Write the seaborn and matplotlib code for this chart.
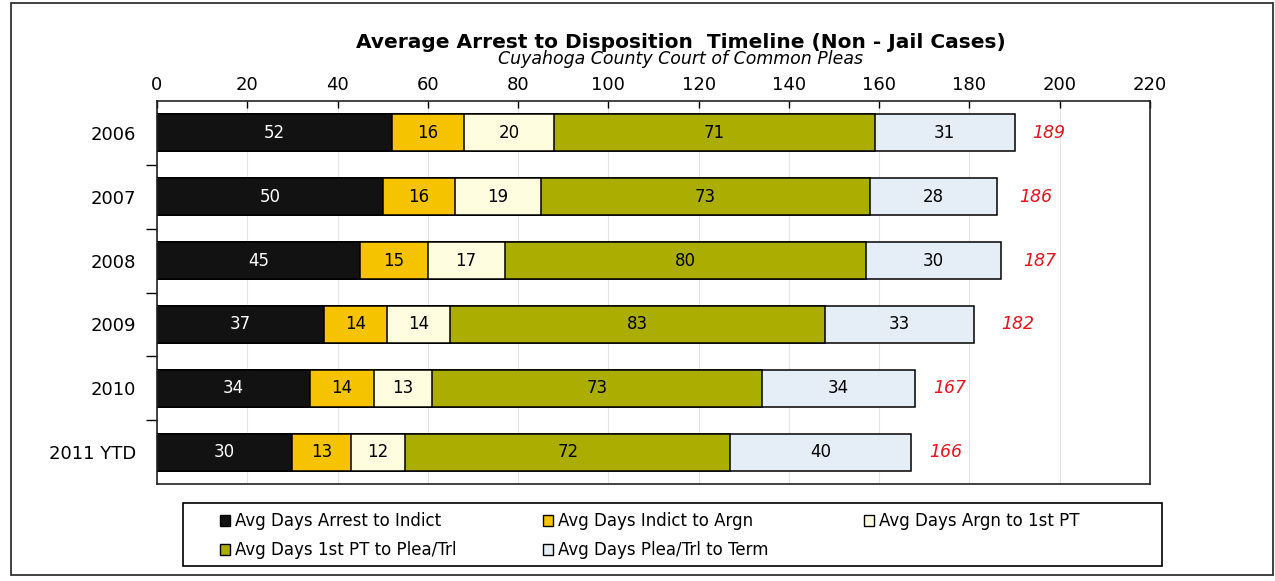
import matplotlib
matplotlib.use('Agg')
import matplotlib.pyplot as plt
import matplotlib.patches as mpatches
import numpy as np
import pandas as pd
import seaborn as sns

# ---------------------------------------------------------------------------
# Data
# ---------------------------------------------------------------------------
years = ['2006', '2007', '2008', '2009', '2010', '2011 YTD']
arrest_to_indict = [52, 50, 45, 37, 34, 30]
indict_to_argn = [16, 16, 15, 14, 14, 13]
argn_to_1st_pt = [20, 19, 17, 14, 13, 12]
pt_to_plea = [71, 73, 80, 83, 73, 72]
plea_to_term = [31, 28, 30, 33, 34, 40]
totals = [189, 186, 187, 182, 167, 166]

series_names = ['Avg Days Arrest to Indict', 'Avg Days Indict to Argn',
                'Avg Days Argn to 1st PT', 'Avg Days 1st PT to Plea/Trl',
                'Avg Days Plea/Trl to Term']
series_vals = [arrest_to_indict, indict_to_argn, argn_to_1st_pt, pt_to_plea, plea_to_term]
series_colors = ['#121212', '#F6C300', '#FFFDE0', '#ABAE00', '#E5EEF6']
text_colors = ['white', 'black', 'black', 'black', 'black']

sns.set_theme(style='white', rc={'text.color': 'black', 'xtick.color': 'black',
                                 'ytick.color': 'black', 'axes.labelcolor': 'black'})
plt.rcParams['font.family'] = ['DejaVu Sans']

W, H = 1275, 581
fig = plt.figure(figsize=(W / 100, H / 100), dpi=100)
ax = fig.add_axes([157 / W, 1 - 484 / H, (1150 - 157) / W, (484 - 101) / H])

df = pd.DataFrame({'year': years})
cum = np.zeros(len(years))
lefts = []
for vals in series_vals:
    lefts.append(cum.copy())
    cum = cum + np.array(vals)
    df[len(lefts) - 1] = cum.copy()

# draw cumulative bars from the outermost segment inward
for i in reversed(range(len(series_vals))):
    sns.barplot(data=df, x=i, y='year', orient='h', color=series_colors[i],
                saturation=1, width=0.58, edgecolor='black', linewidth=1.1, ax=ax)

# segment labels
for i, vals in enumerate(series_vals):
    for j, v in enumerate(vals):
        ax.text(lefts[i][j] + v / 2, j, str(v), ha='center', va='center',
                fontsize=12, color=text_colors[i])

# totals in red italic
for j, t in enumerate(totals):
    ax.text(t + 5, j, str(t), ha='left', va='center', fontsize=12.5,
            color='#E8141B', style='italic')

ax.set_xlim(0, 220)
ax.set_ylim(5.5, -0.5)
ax.set_xticks(range(0, 221, 20))
ax.xaxis.tick_top()
ax.tick_params(axis='x', which='major', direction='in', length=5, width=1,
               labelsize=13, pad=5, top=True, bottom=False)
ax.set_yticks(range(len(years)))
ax.set_yticklabels(years)
ax.tick_params(axis='y', which='major', length=0, labelsize=13, pad=15)
ax.set_yticks(np.arange(0.5, len(years) - 0.5, 1), minor=True)
ax.tick_params(axis='y', which='minor', direction='out', length=8, width=1, left=True)
ax.set_xlabel('')
ax.set_ylabel('')
ax.grid(axis='x', color='#E4E4E4', linewidth=0.8)
ax.set_axisbelow(True)
for s in ax.spines.values():
    s.set_visible(True)
    s.set_color('#222222')
    s.set_linewidth(1.2)

# titles
fig.text(681 / W, 1 - 42 / H, 'Average Arrest to Disposition  Timeline (Non - Jail Cases)',
         ha='center', va='center', fontsize=14.5, fontweight='bold')
fig.text(681 / W, 1 - 59 / H, 'Cuyahoga County Court of Common Pleas',
         ha='center', va='center', fontsize=12.5, style='italic')

# legend: box, then three columns filled row by row
handles = [mpatches.Patch(facecolor=c, edgecolor='black', linewidth=1, label=n)
           for c, n in zip(series_colors, series_names)]
columns = [([0, 3], 217), ([1, 4], 540), ([2], 861)]
for idx, x0 in columns:
    leg = fig.legend([handles[k] for k in idx], [series_names[k] for k in idx],
                     loc='upper left', bbox_to_anchor=(x0 / W, 1 - 509 / H),
                     fontsize=12, frameon=False, handlelength=0.6, handleheight=0.6,
                     handletextpad=0.3, borderaxespad=0, borderpad=0.2,
                     labelspacing=0.65)
fig.patches.append(mpatches.Rectangle((183 / W, 1 - 566 / H), (1162 - 183) / W, (566 - 503) / H,
                                      transform=fig.transFigure, fill=False,
                                      edgecolor='black', linewidth=1.2))

# outer frame round the whole chart
fig.patches.append(mpatches.Rectangle((11 / W, 1 - 575 / H), (1273 - 11) / W, (575 - 3) / H,
                                      transform=fig.transFigure, fill=False,
                                      edgecolor='#333333', linewidth=1.3))

fig.savefig('out.png', dpi=100)
